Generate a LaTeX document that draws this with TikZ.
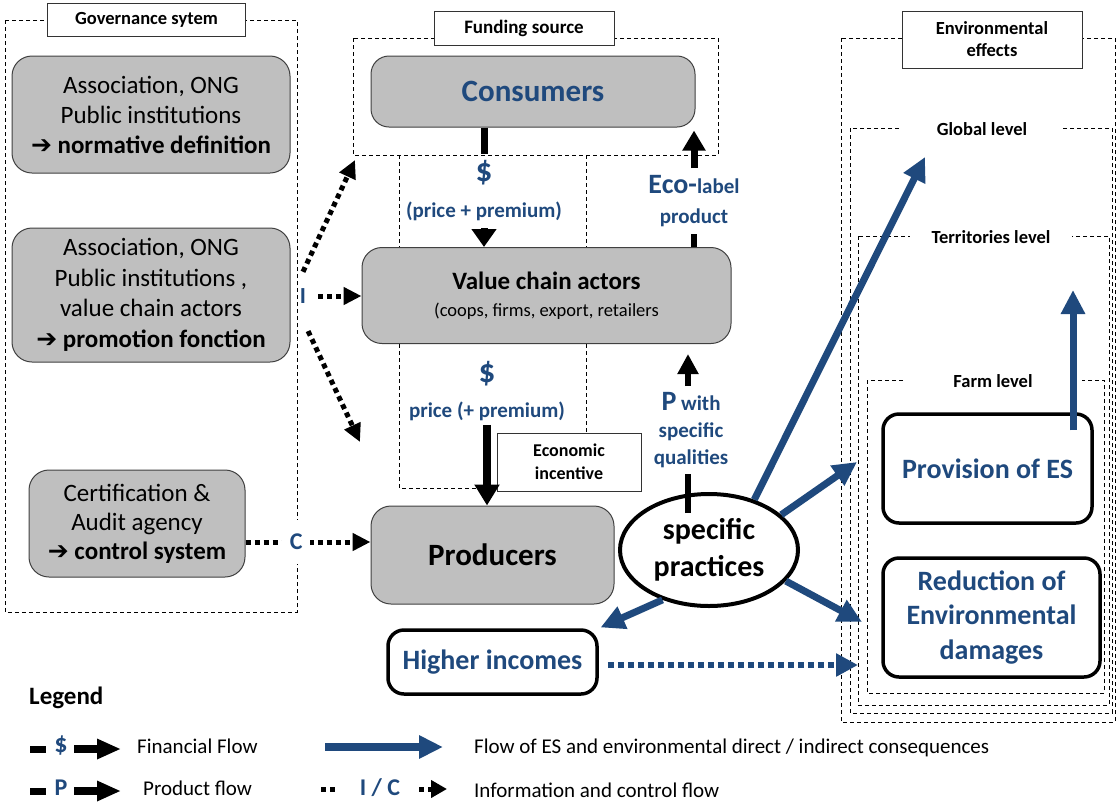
\documentclass[tikz,border=0pt]{standalone}
\usepackage{fontspec}
\setmainfont{Carlito}
\newfontfamily\dvfont{DejaVu Sans}
\usetikzlibrary{arrows.meta,shapes.geometric}
\definecolor{esblue}{RGB}{31,73,125}
\definecolor{boxgray}{RGB}{191,191,191}
\newcommand{\fs}[2]{\fontsize{#1}{#2}\selectfont}
\newcommand{\harr}{{\dvfont ➔}}
\begin{document}
\begin{tikzpicture}[x=1pt,y=-1pt,
 gbox/.style={draw=black!75, fill=boxgray, rounded corners=20pt, line width=1pt, align=center, inner sep=0pt},
 wbox/.style={draw=black, fill=white, rounded corners=16pt, line width=3.5pt, align=center, inner sep=0pt, text=esblue, font=\fs{28}{34.5}\bfseries},
 tbox/.style={draw=black!80, fill=white, line width=1pt, align=center, inner sep=0pt},
 dbox/.style={draw=black, dash pattern=on 4pt off 3pt, line width=0.9pt},
 lvl/.style={fill=white, inner sep=0pt, minimum height=12pt, font=\fs{18.5}{22}\bfseries},
 fin/.style={draw=black, line width=7pt, -{Triangle[length=18pt,width=24pt]}},
 finstub/.style={draw=black, line width=7pt},
 info/.style={draw=black, line width=5pt, dash pattern=on 5pt off 4pt, -{Triangle[length=18pt,width=17pt]}},
 es/.style={draw=esblue, line width=7pt, -{Triangle[length=24pt,width=23pt]}},
 esdot/.style={draw=esblue, line width=6pt, dash pattern=on 6pt off 4pt, -{Triangle[length=22pt,width=22pt]}},
 flab/.style={text=esblue, align=center, inner xsep=1pt},
 legtxt/.style={anchor=west, inner sep=0pt, font=\fs{21}{24}},
]
\useasboundingbox (0,0) rectangle (1117,804);

% ---------- dashed frames ----------
\draw[dbox] (5,20) rectangle (297,612);
\draw[dbox] (353,38) rectangle (718,155);
\draw[dbox] (399,155) -- (399,488) -- (482,488);
\draw[dbox] (586,155) -- (586,433);
\draw[dbox] (841,38) rectangle (1115,722);
\draw[dbox] (850,128) rectangle (1112,713);
\draw[dbox] (858,236) rectangle (1109,705);
\draw[dbox] (867,380) rectangle (1104,693);

% ---------- titles ----------
\node[tbox, minimum width=198, minimum height=33, font=\fs{18.5}{22}\bfseries] (gov) at (146.5,19.5) {Governance sytem};
\node[tbox, minimum width=180, minimum height=34, font=\fs{19}{22}\bfseries] (fund) at (524,28) {Funding source};
\node[tbox, minimum width=180, minimum height=57, font=\fs{18.5}{22}\bfseries] (env) at (992,39.5) {Environmental\\effects};
\node[lvl, minimum width=160] (glob) at (982,129) {Global level};
\node[lvl, minimum width=162] (terr) at (991,237) {Territories level};
\node[lvl, minimum width=178] (farm) at (993,381) {Farm level};

% ---------- governance boxes ----------
\node[gbox, minimum width=278, minimum height=117, font=\fs{25}{30}] (norm) at (151,114.5)
  {Association, ONG\\Public institutions\\{\bfseries\harr\ normative definition}};
\node[gbox, minimum width=278, minimum height=134, font=\fs{25}{30.5}] (prom) at (151,295)
  {Association, ONG\\Public institutions ,\\value chain actors\\{\bfseries\harr\ promotion fonction}};
\node[gbox, minimum width=216, minimum height=107, font=\fs{25}{29}] (cert) at (137,523.5)
  {Certification \&\\Audit agency\\{\bfseries\harr\ control system}};

% ---------- chain boxes ----------
\node[gbox, minimum width=324, minimum height=71, rounded corners=18pt, text=esblue, font=\fs{31}{36}\bfseries] (cons) at (533,91.5) {Consumers};
\node[gbox, minimum width=369, minimum height=96, font=\fs{18.5}{27}] (vca) at (546.5,295.5)
  {{\fs{25}{27}\bfseries Value chain actors}\\(coops, firms, export, retailers};
\node[gbox, minimum width=243, minimum height=98, font=\fs{31}{36}\bfseries] (prod) at (492.5,555) {Producers};
\node[tbox, minimum width=144, minimum height=58, font=\fs{18}{23}\bfseries] (econ) at (569,462) {Economic\\incentive};

\node[ellipse, draw, line width=4pt, minimum width=178, minimum height=112, inner sep=0pt, align=center, font=\fs{30}{37}\bfseries] (sp) at (709,550) {specific\\practices};

\node[wbox, minimum width=209, minimum height=64] (hinc) at (492.5,662) {Higher incomes};
\node[wbox, minimum width=209, minimum height=109] (prov) at (987.5,468.5) {Provision of ES};
\node[wbox, minimum width=217, minimum height=119] (red) at (991.5,617.5) {Reduction of\\Environmental\\damages};

% ---------- financial / product flows ----------
\node[flab, inner ysep=7pt, font=\fs{21}{36}\bfseries] (lab1) at (484,191) {{\fs{33}{36}\$}\\(price + premium)};
\draw[finstub] (cons.south -| lab1) -- (lab1.north);
\draw[fin] (lab1.south) -- (vca.north -| lab1);

\node[flab, inner ysep=4pt, font=\fs{21}{35}\bfseries] (lab2) at (487,391) {{\fs{33}{35}\$}\\price (+ premium)};
\draw[fin, line width=8pt, -{Triangle[length=21pt,width=24pt]}] (lab2.south) -- (prod.north -| lab2);

\node[flab, inner ysep=7pt, font=\fs{21}{30}\bfseries] (lab3) at (694,201) {{\fs{28}{30}Eco-}label\\product};
\draw[finstub, line width=6pt] (vca.north -| lab3) -- (lab3.south);
\draw[fin, line width=7pt, -{Triangle[length=20pt,width=22pt]}, shorten >=3pt] (lab3.north) -- (cons.south -| lab3);

\node[flab, inner ysep=6pt, font=\fs{21}{27}\bfseries] (lab4) at (691,430) {{\fs{28}{27}P} with\\specific\\qualities};
\coordinate (pst) at (688,513);
\draw[finstub, line width=6pt] (pst) -- (lab4.south -| pst);
\draw[fin, line width=6pt, -{Triangle[length=20pt,width=20pt]}, shorten >=10pt] (lab4.north -| pst) -- (vca.south -| pst);

% ---------- information / control flows ----------
\node[fill=white, text=esblue, font=\fs{23}{24}\bfseries, minimum height=48, minimum width=10, inner sep=1pt] (I) at (303,296) {I};
\coordinate (iu) at (355,160);
\coordinate (id) at (360,442);
\draw[info] (I.north) -- (iu);
\draw[info, shorten <=10pt] (I.east) -- (vca.west |- I);
\draw[info, shorten <=12pt] (I.south) -- (id);
\coordinate (cy) at (0,542);
\draw[info] (cert.east |- cy) -- (prod.west |- cy)
  node[pos=0.405, fill=white, text=esblue, font=\fs{24}{26}\bfseries, minimum height=44, inner xsep=8pt] (C) {C};

% ---------- environmental flows ----------
\coordinate (gtip) at (925,157);
\coordinate (ptip) at (857,462);
\coordinate (rtip) at (862,622);
\coordinate (ttip) at (1073,290);
\coordinate (dtip) at (858,665);
\draw[es] (sp.48) -- (gtip);
\draw[es] (sp.26) -- (ptip);
\draw[es] (sp.-22) -- (rtip);
\draw[es, shorten >=2pt] (sp.-133) -- (hinc.north east);
\draw[es] ([yshift=-18pt]prov.north -| ttip) -- (ttip);
\draw[esdot, shorten <=9pt] (hinc.east |- dtip) -- (dtip);

% ---------- legend ----------
\node[anchor=west, inner sep=0pt, font=\fs{25}{28}\bfseries] (leg) at (29,698) {Legend};
\node[text=esblue, font=\fs{26}{28}\bfseries] (ld) at (61,746) {\$};
\coordinate (lb1a) at (30,749); \coordinate (lb1b) at (46,749);
\draw[line width=7pt] (lb1a) -- (lb1b);
\coordinate (la1) at (74,749); \coordinate (la1e) at (121,749);
\draw[line width=8pt, -{Triangle[length=24pt,width=19pt]}] (la1) -- (la1e);
\node[legtxt] (lft) at (137,746) {Financial Flow};
\coordinate (les) at (325,747); \coordinate (lese) at (443,747);
\draw[draw=esblue, line width=8pt, -{Triangle[length=24pt,width=22pt]}] (les) -- (lese);
\node[legtxt] (lest) at (474,748) {Flow of ES and environmental direct / indirect consequences};

\node[text=esblue, font=\fs{24}{26}\bfseries] (lp) at (61,788) {P};
\coordinate (lb2a) at (30,791); \coordinate (lb2b) at (46,791);
\draw[line width=7pt] (lb2a) -- (lb2b);
\coordinate (la2) at (74,791); \coordinate (la2e) at (121,791);
\draw[line width=8pt, -{Triangle[length=24pt,width=19pt]}] (la2) -- (la2e);
\node[legtxt] (lpt) at (143,788) {Product flow};
\coordinate (ld1) at (321,789); \coordinate (ld2) at (338,789);
\draw[line width=5pt, dash pattern=on 5pt off 4pt] (ld1) -- (ld2);
\node[text=esblue, font=\fs{24}{26}\bfseries] (lic) at (380,788) {I / C};
\coordinate (ld3) at (419,789); \coordinate (ld4) at (447,789);
\draw[info, -{Triangle[length=16pt,width=17pt]}] (ld3) -- (ld4);
\node[legtxt] (lit) at (474,790) {Information and control flow};
\end{tikzpicture}
\end{document}
